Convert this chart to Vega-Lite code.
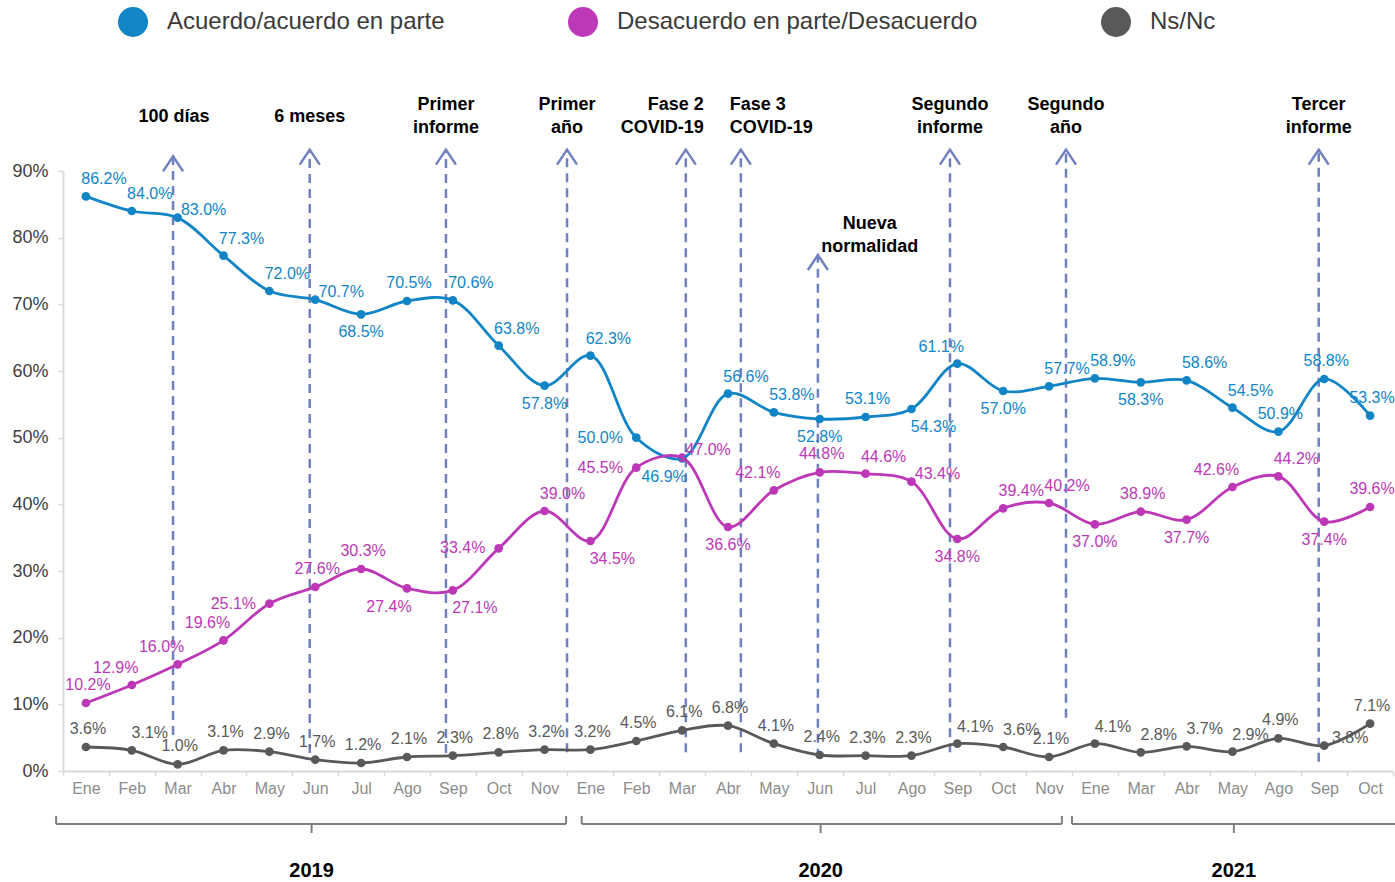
{
  "$schema": "https://vega.github.io/schema/vega-lite/v6.json",
  "width": 1330,
  "height": 600,
  "autosize": {"type": "none"},
  "padding": {"left": 63, "top": 171, "right": 2, "bottom": 111},
  "background": "white",
  "config": {"view": {"stroke": null}, "font": "Liberation Sans"},
  "datasets": {
    "series": [
      {"i": 0, "mes": "Ene", "serie": "Acuerdo/acuerdo en parte", "v": 0.862, "lp": "ar"},
      {"i": 1, "mes": "Feb", "serie": "Acuerdo/acuerdo en parte", "v": 0.840, "lp": "ar"},
      {"i": 2, "mes": "Mar", "serie": "Acuerdo/acuerdo en parte", "v": 0.830, "lp": "r"},
      {"i": 3, "mes": "Abr", "serie": "Acuerdo/acuerdo en parte", "v": 0.773, "lp": "ar"},
      {"i": 4, "mes": "May", "serie": "Acuerdo/acuerdo en parte", "v": 0.720, "lp": "ar"},
      {"i": 5, "mes": "Jun", "serie": "Acuerdo/acuerdo en parte", "v": 0.707, "lp": "r"},
      {"i": 6, "mes": "Jul", "serie": "Acuerdo/acuerdo en parte", "v": 0.685, "lp": "b"},
      {"i": 7, "mes": "Ago", "serie": "Acuerdo/acuerdo en parte", "v": 0.705, "lp": "a"},
      {"i": 8, "mes": "Sep", "serie": "Acuerdo/acuerdo en parte", "v": 0.706, "lp": "ar"},
      {"i": 9, "mes": "Oct", "serie": "Acuerdo/acuerdo en parte", "v": 0.638, "lp": "ar"},
      {"i": 10, "mes": "Nov", "serie": "Acuerdo/acuerdo en parte", "v": 0.578, "lp": "b"},
      {"i": 11, "mes": "Ene", "serie": "Acuerdo/acuerdo en parte", "v": 0.623, "lp": "ar"},
      {"i": 12, "mes": "Feb", "serie": "Acuerdo/acuerdo en parte", "v": 0.500, "lp": "l"},
      {"i": 13, "mes": "Mar", "serie": "Acuerdo/acuerdo en parte", "v": 0.469, "lp": "bl"},
      {"i": 14, "mes": "Abr", "serie": "Acuerdo/acuerdo en parte", "v": 0.566, "lp": "ar"},
      {"i": 15, "mes": "May", "serie": "Acuerdo/acuerdo en parte", "v": 0.538, "lp": "ar"},
      {"i": 16, "mes": "Jun", "serie": "Acuerdo/acuerdo en parte", "v": 0.528, "lp": "b"},
      {"i": 17, "mes": "Jul", "serie": "Acuerdo/acuerdo en parte", "v": 0.531, "lp": "a"},
      {"i": 18, "mes": "Ago", "serie": "Acuerdo/acuerdo en parte", "v": 0.543, "lp": "br"},
      {"i": 19, "mes": "Sep", "serie": "Acuerdo/acuerdo en parte", "v": 0.611, "lp": "al"},
      {"i": 20, "mes": "Oct", "serie": "Acuerdo/acuerdo en parte", "v": 0.570, "lp": "b"},
      {"i": 21, "mes": "Nov", "serie": "Acuerdo/acuerdo en parte", "v": 0.577, "lp": "ar"},
      {"i": 22, "mes": "Ene", "serie": "Acuerdo/acuerdo en parte", "v": 0.589, "lp": "ar"},
      {"i": 23, "mes": "Mar", "serie": "Acuerdo/acuerdo en parte", "v": 0.583, "lp": "b"},
      {"i": 24, "mes": "Abr", "serie": "Acuerdo/acuerdo en parte", "v": 0.586, "lp": "ar"},
      {"i": 25, "mes": "May", "serie": "Acuerdo/acuerdo en parte", "v": 0.545, "lp": "ar"},
      {"i": 26, "mes": "Ago", "serie": "Acuerdo/acuerdo en parte", "v": 0.509, "lp": "a"},
      {"i": 27, "mes": "Sep", "serie": "Acuerdo/acuerdo en parte", "v": 0.588, "lp": "a"},
      {"i": 28, "mes": "Oct", "serie": "Acuerdo/acuerdo en parte", "v": 0.533, "lp": "a"},
      {"i": 0, "mes": "Ene", "serie": "Desacuerdo en parte/Desacuerdo", "v": 0.102, "lp": "a"},
      {"i": 1, "mes": "Feb", "serie": "Desacuerdo en parte/Desacuerdo", "v": 0.129, "lp": "al"},
      {"i": 2, "mes": "Mar", "serie": "Desacuerdo en parte/Desacuerdo", "v": 0.160, "lp": "al"},
      {"i": 3, "mes": "Abr", "serie": "Desacuerdo en parte/Desacuerdo", "v": 0.196, "lp": "al"},
      {"i": 4, "mes": "May", "serie": "Desacuerdo en parte/Desacuerdo", "v": 0.251, "lp": "l"},
      {"i": 5, "mes": "Jun", "serie": "Desacuerdo en parte/Desacuerdo", "v": 0.276, "lp": "a"},
      {"i": 6, "mes": "Jul", "serie": "Desacuerdo en parte/Desacuerdo", "v": 0.303, "lp": "a"},
      {"i": 7, "mes": "Ago", "serie": "Desacuerdo en parte/Desacuerdo", "v": 0.274, "lp": "bl"},
      {"i": 8, "mes": "Sep", "serie": "Desacuerdo en parte/Desacuerdo", "v": 0.271, "lp": "br"},
      {"i": 9, "mes": "Oct", "serie": "Desacuerdo en parte/Desacuerdo", "v": 0.334, "lp": "l"},
      {"i": 10, "mes": "Nov", "serie": "Desacuerdo en parte/Desacuerdo", "v": 0.390, "lp": "ar"},
      {"i": 11, "mes": "Ene", "serie": "Desacuerdo en parte/Desacuerdo", "v": 0.345, "lp": "br"},
      {"i": 12, "mes": "Feb", "serie": "Desacuerdo en parte/Desacuerdo", "v": 0.455, "lp": "l"},
      {"i": 13, "mes": "Mar", "serie": "Desacuerdo en parte/Desacuerdo", "v": 0.470, "lp": "r"},
      {"i": 14, "mes": "Abr", "serie": "Desacuerdo en parte/Desacuerdo", "v": 0.366, "lp": "b"},
      {"i": 15, "mes": "May", "serie": "Desacuerdo en parte/Desacuerdo", "v": 0.421, "lp": "al"},
      {"i": 16, "mes": "Jun", "serie": "Desacuerdo en parte/Desacuerdo", "v": 0.448, "lp": "a"},
      {"i": 17, "mes": "Jul", "serie": "Desacuerdo en parte/Desacuerdo", "v": 0.446, "lp": "ar"},
      {"i": 18, "mes": "Ago", "serie": "Desacuerdo en parte/Desacuerdo", "v": 0.434, "lp": "r"},
      {"i": 19, "mes": "Sep", "serie": "Desacuerdo en parte/Desacuerdo", "v": 0.348, "lp": "b"},
      {"i": 20, "mes": "Oct", "serie": "Desacuerdo en parte/Desacuerdo", "v": 0.394, "lp": "ar"},
      {"i": 21, "mes": "Nov", "serie": "Desacuerdo en parte/Desacuerdo", "v": 0.402, "lp": "ar"},
      {"i": 22, "mes": "Ene", "serie": "Desacuerdo en parte/Desacuerdo", "v": 0.370, "lp": "b"},
      {"i": 23, "mes": "Mar", "serie": "Desacuerdo en parte/Desacuerdo", "v": 0.389, "lp": "a"},
      {"i": 24, "mes": "Abr", "serie": "Desacuerdo en parte/Desacuerdo", "v": 0.377, "lp": "b"},
      {"i": 25, "mes": "May", "serie": "Desacuerdo en parte/Desacuerdo", "v": 0.426, "lp": "al"},
      {"i": 26, "mes": "Ago", "serie": "Desacuerdo en parte/Desacuerdo", "v": 0.442, "lp": "ar"},
      {"i": 27, "mes": "Sep", "serie": "Desacuerdo en parte/Desacuerdo", "v": 0.374, "lp": "b"},
      {"i": 28, "mes": "Oct", "serie": "Desacuerdo en parte/Desacuerdo", "v": 0.396, "lp": "a"},
      {"i": 0, "mes": "Ene", "serie": "Ns/Nc", "v": 0.036, "lp": "a"},
      {"i": 1, "mes": "Feb", "serie": "Ns/Nc", "v": 0.031, "lp": "ar"},
      {"i": 2, "mes": "Mar", "serie": "Ns/Nc", "v": 0.010, "lp": "a"},
      {"i": 3, "mes": "Abr", "serie": "Ns/Nc", "v": 0.031, "lp": "a"},
      {"i": 4, "mes": "May", "serie": "Ns/Nc", "v": 0.029, "lp": "a"},
      {"i": 5, "mes": "Jun", "serie": "Ns/Nc", "v": 0.017, "lp": "a"},
      {"i": 6, "mes": "Jul", "serie": "Ns/Nc", "v": 0.012, "lp": "a"},
      {"i": 7, "mes": "Ago", "serie": "Ns/Nc", "v": 0.021, "lp": "a"},
      {"i": 8, "mes": "Sep", "serie": "Ns/Nc", "v": 0.023, "lp": "a"},
      {"i": 9, "mes": "Oct", "serie": "Ns/Nc", "v": 0.028, "lp": "a"},
      {"i": 10, "mes": "Nov", "serie": "Ns/Nc", "v": 0.032, "lp": "a"},
      {"i": 11, "mes": "Ene", "serie": "Ns/Nc", "v": 0.032, "lp": "a"},
      {"i": 12, "mes": "Feb", "serie": "Ns/Nc", "v": 0.045, "lp": "a"},
      {"i": 13, "mes": "Mar", "serie": "Ns/Nc", "v": 0.061, "lp": "a"},
      {"i": 14, "mes": "Abr", "serie": "Ns/Nc", "v": 0.068, "lp": "a"},
      {"i": 15, "mes": "May", "serie": "Ns/Nc", "v": 0.041, "lp": "a"},
      {"i": 16, "mes": "Jun", "serie": "Ns/Nc", "v": 0.024, "lp": "a"},
      {"i": 17, "mes": "Jul", "serie": "Ns/Nc", "v": 0.023, "lp": "a"},
      {"i": 18, "mes": "Ago", "serie": "Ns/Nc", "v": 0.023, "lp": "a"},
      {"i": 19, "mes": "Sep", "serie": "Ns/Nc", "v": 0.041, "lp": "ar"},
      {"i": 20, "mes": "Oct", "serie": "Ns/Nc", "v": 0.036, "lp": "ar"},
      {"i": 21, "mes": "Nov", "serie": "Ns/Nc", "v": 0.021, "lp": "a"},
      {"i": 22, "mes": "Ene", "serie": "Ns/Nc", "v": 0.041, "lp": "ar"},
      {"i": 23, "mes": "Mar", "serie": "Ns/Nc", "v": 0.028, "lp": "ar"},
      {"i": 24, "mes": "Abr", "serie": "Ns/Nc", "v": 0.037, "lp": "ar"},
      {"i": 25, "mes": "May", "serie": "Ns/Nc", "v": 0.029, "lp": "ar"},
      {"i": 26, "mes": "Ago", "serie": "Ns/Nc", "v": 0.049, "lp": "a"},
      {"i": 27, "mes": "Sep", "serie": "Ns/Nc", "v": 0.038, "lp": "r"},
      {"i": 28, "mes": "Oct", "serie": "Ns/Nc", "v": 0.071, "lp": "a"}
    ],
    "events": [
      {"ev": "100 días", "x": 1.9, "top": 0.922, "bot": 0.054, "tx": 1.92, "ty": 0.981, "al": "c", "txt": ["100 días"]},
      {"ev": "6 meses", "x": 4.88, "top": 0.932, "bot": 0.027, "tx": 4.88, "ty": 0.981, "al": "c", "txt": ["6 meses"]},
      {"ev": "Primer informe", "x": 7.85, "top": 0.932, "bot": 0.027, "tx": 7.85, "ty": 0.999, "al": "c", "txt": ["Primer", "informe"]},
      {"ev": "Primer año", "x": 10.49, "top": 0.932, "bot": 0.028, "tx": 10.49, "ty": 0.999, "al": "c", "txt": ["Primer", "año"]},
      {"ev": "Fase 2 COVID-19", "x": 13.08, "top": 0.932, "bot": 0.028, "tx": 13.47, "ty": 0.999, "al": "r", "txt": ["Fase 2", "COVID-19"]},
      {"ev": "Fase 3 COVID-19", "x": 14.28, "top": 0.932, "bot": 0.028, "tx": 14.04, "ty": 0.999, "al": "l", "txt": ["Fase 3", "COVID-19"]},
      {"ev": "Nueva normalidad", "x": 15.96, "top": 0.774, "bot": 0.02, "tx": 17.09, "ty": 0.8205, "al": "c", "txt": ["Nueva", "normalidad"]},
      {"ev": "Segundo informe", "x": 18.84, "top": 0.932, "bot": 0.028, "tx": 18.84, "ty": 0.999, "al": "c", "txt": ["Segundo", "informe"]},
      {"ev": "Segundo año", "x": 21.37, "top": 0.932, "bot": 0.08, "tx": 21.37, "ty": 0.999, "al": "c", "txt": ["Segundo", "año"]},
      {"ev": "Tercer informe", "x": 26.88, "top": 0.932, "bot": 0.014, "tx": 26.88, "ty": 0.999, "al": "c", "txt": ["Tercer", "informe"]}
    ],
    "years": [
      {"anio": "2019", "x0": -0.65, "x1": 10.47, "xm": 4.92},
      {"anio": "2020", "x0": 10.81, "x1": 21.28, "xm": 16.02},
      {"anio": "2021", "x0": 21.5, "x1": 28.6, "xm": 25.03}
    ]
  },
  "layer": [
    {
      "data": {"name": "events"},
      "mark": {"type": "rule", "color": "#7080C0", "strokeWidth": 2.5, "strokeDash": [9, 6]},
      "encoding": {
        "x": {"field": "x", "type": "quantitative", "scale": {"domain": [-0.5, 28.5], "nice": false, "zero": false},
          "axis": {
            "values": [-0.5, 0.5, 1.5, 2.5, 3.5, 4.5, 5.5, 6.5, 7.5, 8.5, 9.5, 10.5, 11.5, 12.5, 13.5, 14.5, 15.5, 16.5, 17.5, 18.5, 19.5, 20.5, 21.5, 22.5, 23.5, 24.5, 25.5, 26.5, 27.5, 28.5],
            "labelExpr": "datum.value < 28 ? ['Ene','Feb','Mar','Abr','May','Jun','Jul','Ago','Sep','Oct','Nov','Ene','Feb','Mar','Abr','May','Jun','Jul','Ago','Sep','Oct','Nov','Ene','Mar','Abr','May','Ago','Sep','Oct'][datum.value + 0.5] : ''",
            "labelOffset": 22.93,
            "tickSize": 5, "tickColor": "#d9d9d9", "tickWidth": 1.5,
            "domainColor": "#d9d9d9", "domainWidth": 2,
            "labelColor": "#8c8c8c", "labelFontSize": 16, "labelFont": "Liberation Sans", "labelPadding": 4,
            "grid": false, "title": null, "labelOverlap": false, "labelFlush": false, "labelBound": false
          }
        },
        "y": {"field": "bot", "type": "quantitative", "scale": {"domain": [0, 0.9], "nice": false, "zero": false},
          "axis": {
            "values": [0, 0.1, 0.2, 0.3, 0.4, 0.5, 0.6, 0.7, 0.8, 0.9],
            "format": ".0%",
            "tickSize": 5, "tickColor": "#d9d9d9", "tickWidth": 1.5,
            "domainColor": "#d9d9d9", "domainWidth": 2,
            "labelColor": "#404040", "labelFontSize": 18, "labelFont": "Liberation Sans", "labelPadding": 10,
            "grid": false, "title": null
          }
        },
        "y2": {"field": "top"}
      }
    },
    {
      "data": {"name": "events"},
      "mark": {"type": "point", "shape": "M-1,1.5L0,0L1,1.5", "filled": false, "color": "#7080C0", "strokeWidth": 2.5, "size": 400, "opacity": 1},
      "encoding": {
        "x": {"field": "x", "type": "quantitative"},
        "y": {"field": "top", "type": "quantitative"}
      }
    },
    {
      "data": {"name": "events"},
      "transform": [{"filter": "datum.al == 'c'"}],
      "mark": {"type": "text", "align": "center", "baseline": "middle", "fontSize": 18, "fontWeight": "bold", "lineHeight": 23, "color": "#000000", "font": "Liberation Sans"},
      "encoding": {
        "x": {"field": "tx", "type": "quantitative"},
        "y": {"field": "ty", "type": "quantitative"},
        "text": {"field": "txt"}
      }
    },
    {
      "data": {"name": "events"},
      "transform": [{"filter": "datum.al == 'r'"}],
      "mark": {"type": "text", "align": "right", "baseline": "middle", "fontSize": 18, "fontWeight": "bold", "lineHeight": 23, "color": "#000000", "font": "Liberation Sans"},
      "encoding": {
        "x": {"field": "tx", "type": "quantitative"},
        "y": {"field": "ty", "type": "quantitative"},
        "text": {"field": "txt"}
      }
    },
    {
      "data": {"name": "events"},
      "transform": [{"filter": "datum.al == 'l'"}],
      "mark": {"type": "text", "align": "left", "baseline": "middle", "fontSize": 18, "fontWeight": "bold", "lineHeight": 23, "color": "#000000", "font": "Liberation Sans"},
      "encoding": {
        "x": {"field": "tx", "type": "quantitative"},
        "y": {"field": "ty", "type": "quantitative"},
        "text": {"field": "txt"}
      }
    },
    {
      "data": {"name": "series"},
      "mark": {"type": "point", "filled": true, "size": 76, "opacity": 1},
      "encoding": {
        "x": {"field": "i", "type": "quantitative"},
        "y": {"field": "v", "type": "quantitative"},
        "color": {"field": "serie", "type": "nominal", "scale": {"domain": ["Acuerdo/acuerdo en parte", "Desacuerdo en parte/Desacuerdo", "Ns/Nc"], "range": ["#1185C6", "#BD38B6", "#595959"]},
          "legend": {"orient": "none", "legendX": 55, "legendY": -164, "direction": "horizontal", "symbolType": "circle", "symbolSize": 900, "symbolStrokeWidth": 0, "symbolOpacity": 1, "labelFontSize": 24, "labelColor": "#3a3a3a", "labelFont": "Liberation Sans", "labelLimit": 500, "columnPadding": 123, "labelOffset": 19, "title": null, "padding": 0, "offset": 0}
        }
      }
    },
    {
      "data": {"name": "series"},
      "mark": {"type": "line", "interpolate": "catmull-rom", "strokeWidth": 2.8},
      "encoding": {
        "x": {"field": "i", "type": "quantitative"},
        "y": {"field": "v", "type": "quantitative"},
        "color": {"field": "serie", "type": "nominal"}
      }
    },
    {
      "data": {"name": "series"},
      "transform": [{"filter": "datum.lp == 'a'"}],
      "mark": {"type": "text", "dx": 2, "dy": -18, "fontSize": 16, "font": "Liberation Sans", "baseline": "middle", "align": "center"},
      "encoding": {
        "x": {"field": "i", "type": "quantitative"},
        "y": {"field": "v", "type": "quantitative"},
        "text": {"field": "v", "type": "quantitative", "format": ".1%"},
        "color": {"field": "serie", "type": "nominal"}
      }
    },
    {
      "data": {"name": "series"},
      "transform": [{"filter": "datum.lp == 'ar'"}],
      "mark": {"type": "text", "dx": 18, "dy": -17, "fontSize": 16, "font": "Liberation Sans", "baseline": "middle", "align": "center"},
      "encoding": {
        "x": {"field": "i", "type": "quantitative"},
        "y": {"field": "v", "type": "quantitative"},
        "text": {"field": "v", "type": "quantitative", "format": ".1%"},
        "color": {"field": "serie", "type": "nominal"}
      }
    },
    {
      "data": {"name": "series"},
      "transform": [{"filter": "datum.lp == 'al'"}],
      "mark": {"type": "text", "dx": -16, "dy": -17, "fontSize": 16, "font": "Liberation Sans", "baseline": "middle", "align": "center"},
      "encoding": {
        "x": {"field": "i", "type": "quantitative"},
        "y": {"field": "v", "type": "quantitative"},
        "text": {"field": "v", "type": "quantitative", "format": ".1%"},
        "color": {"field": "serie", "type": "nominal"}
      }
    },
    {
      "data": {"name": "series"},
      "transform": [{"filter": "datum.lp == 'b'"}],
      "mark": {"type": "text", "dx": 0, "dy": 18, "fontSize": 16, "font": "Liberation Sans", "baseline": "middle", "align": "center"},
      "encoding": {
        "x": {"field": "i", "type": "quantitative"},
        "y": {"field": "v", "type": "quantitative"},
        "text": {"field": "v", "type": "quantitative", "format": ".1%"},
        "color": {"field": "serie", "type": "nominal"}
      }
    },
    {
      "data": {"name": "series"},
      "transform": [{"filter": "datum.lp == 'br'"}],
      "mark": {"type": "text", "dx": 22, "dy": 18, "fontSize": 16, "font": "Liberation Sans", "baseline": "middle", "align": "center"},
      "encoding": {
        "x": {"field": "i", "type": "quantitative"},
        "y": {"field": "v", "type": "quantitative"},
        "text": {"field": "v", "type": "quantitative", "format": ".1%"},
        "color": {"field": "serie", "type": "nominal"}
      }
    },
    {
      "data": {"name": "series"},
      "transform": [{"filter": "datum.lp == 'bl'"}],
      "mark": {"type": "text", "dx": -18, "dy": 19, "fontSize": 16, "font": "Liberation Sans", "baseline": "middle", "align": "center"},
      "encoding": {
        "x": {"field": "i", "type": "quantitative"},
        "y": {"field": "v", "type": "quantitative"},
        "text": {"field": "v", "type": "quantitative", "format": ".1%"},
        "color": {"field": "serie", "type": "nominal"}
      }
    },
    {
      "data": {"name": "series"},
      "transform": [{"filter": "datum.lp == 'r'"}],
      "mark": {"type": "text", "dx": 26, "dy": -8, "fontSize": 16, "font": "Liberation Sans", "baseline": "middle", "align": "center"},
      "encoding": {
        "x": {"field": "i", "type": "quantitative"},
        "y": {"field": "v", "type": "quantitative"},
        "text": {"field": "v", "type": "quantitative", "format": ".1%"},
        "color": {"field": "serie", "type": "nominal"}
      }
    },
    {
      "data": {"name": "series"},
      "transform": [{"filter": "datum.lp == 'l'"}],
      "mark": {"type": "text", "dx": -36, "dy": 0, "fontSize": 16, "font": "Liberation Sans", "baseline": "middle", "align": "center"},
      "encoding": {
        "x": {"field": "i", "type": "quantitative"},
        "y": {"field": "v", "type": "quantitative"},
        "text": {"field": "v", "type": "quantitative", "format": ".1%"},
        "color": {"field": "serie", "type": "nominal"}
      }
    },
    {
      "data": {"name": "years"},
      "mark": {"type": "rule", "color": "#7f7f7f", "strokeWidth": 2},
      "encoding": {
        "x": {"field": "x0", "type": "quantitative"},
        "x2": {"field": "x1"},
        "y": {"datum": -0.0795, "type": "quantitative"}
      }
    },
    {
      "data": {"name": "years"},
      "mark": {"type": "rule", "color": "#7f7f7f", "strokeWidth": 2},
      "encoding": {
        "x": {"field": "x0", "type": "quantitative"},
        "y": {"datum": -0.0795, "type": "quantitative"},
        "y2": {"datum": -0.0675}
      }
    },
    {
      "data": {"name": "years"},
      "mark": {"type": "rule", "color": "#7f7f7f", "strokeWidth": 2},
      "encoding": {
        "x": {"field": "x1", "type": "quantitative"},
        "y": {"datum": -0.0795, "type": "quantitative"},
        "y2": {"datum": -0.0675}
      }
    },
    {
      "data": {"name": "years"},
      "mark": {"type": "rule", "color": "#7f7f7f", "strokeWidth": 2},
      "encoding": {
        "x": {"field": "xm", "type": "quantitative"},
        "y": {"datum": -0.0795, "type": "quantitative"},
        "y2": {"datum": -0.093}
      }
    },
    {
      "data": {"name": "years"},
      "mark": {"type": "text", "fontSize": 20, "fontWeight": "bold", "color": "#000000", "font": "Liberation Sans", "baseline": "middle", "align": "center"},
      "encoding": {
        "x": {"field": "xm", "type": "quantitative"},
        "y": {"datum": -0.15, "type": "quantitative"},
        "text": {"field": "anio"}
      }
    }
  ]
}
